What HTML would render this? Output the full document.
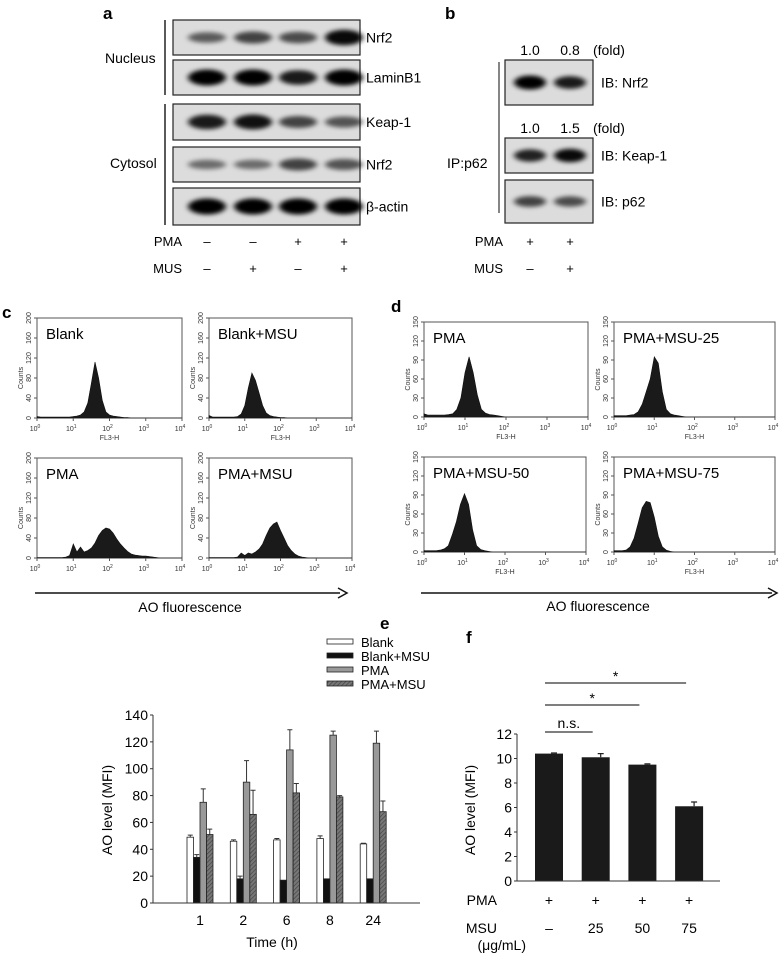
<!DOCTYPE html>
<html><head><meta charset="utf-8">
<style>
html,body{margin:0;padding:0;background:#fff;}
svg{display:block;font-family:"Liberation Sans",sans-serif;}
</style></head>
<body>
<svg id="fig" width="784" height="955" viewBox="0 0 784 955" xmlns="http://www.w3.org/2000/svg">
<defs>
<filter id="blur" x="-20%" y="-50%" width="140%" height="200%"><feGaussianBlur stdDeviation="3 2.2"/></filter>
<pattern id="hatch" width="3" height="3" patternUnits="userSpaceOnUse" patternTransform="rotate(45)">
<rect width="3" height="3" fill="#777"/><line x1="0" y1="0" x2="0" y2="3" stroke="#444" stroke-width="1.4"/></pattern>
</defs>
<g id="panelA"></g>
<g id="panelB"></g>
<g id="panelC"></g>
<g id="panelD"></g>
<g id="panelE"></g>
<g id="panelF"></g>
</svg>
<script>
// ---- Panel a: blot band intensities (0..1) ----
var blotARows = ["Nrf2","LaminB1","Keap-1","Nrf2","β-actin"];
var blotANuc = [0.45,0.6,0.55,0.95];
var blotALam = [1,1,0.85,1];
var blotAKeap = [0.85,0.9,0.6,0.5];
var blotACytN = [0.35,0.35,0.6,0.5];
var blotAAct = [1,1,1,1];
var pmaA = ["–","–","+","+"];
var musA = ["–","+","–","+"];
// ---- Panel b ----
var blotBRows = ["IB: Nrf2","IB: Keap-1","IB: p62"];
var blotBNrf = [1,0.85];
var blotBKeap = [0.8,0.95];
var blotBP62 = [0.6,0.55];
var foldNrf = ["1.0","0.8"];
var foldKeap = ["1.0","1.5"];
var pmaB = ["+","+"];
var musB = ["–","+"];
// ---- Histograms (bins log10 0..4 step 0.1) ----
var histBlank = [3,2,2,2,2,2,2,2,2,2,3,4,6,12,30,70,112,80,35,12,6,4,3,2,1,1,0,0,0,0,0,0,0,0,0,0,0,0,0,0,0];
var histBlankMSU = [5,2,2,2,2,2,2,2,3,8,25,60,90,75,50,25,10,5,3,2,1,1,0,0,0,0,0,0,0,0,0,0,0,0,0,0,0,0,0,0,0];
var histPMA = [1,1,1,1,1,1,1,1,2,5,28,12,22,12,15,20,30,45,55,60,58,50,38,28,20,13,8,6,5,4,4,3,2,1,0,0,0,0,0,0,0];
var histPMAMSU = [1,1,1,1,1,1,1,1,2,10,5,10,8,12,18,28,45,60,68,72,55,40,25,15,8,4,2,1,0,0,0,0,0,0,0,0,0,0,0,0,0];
var histD_PMA = [5,3,3,3,3,3,4,5,12,30,70,95,70,35,12,6,4,3,2,1,0,0,0,0,0,0,0,0,0,0,0,0,0,0,0,0,0,0,0,0,0];
var histD_25 = [2,2,2,2,3,4,8,20,40,60,95,85,40,12,5,3,2,1,0,0,0,0,0,0,0,0,0,0,0,0,0,0,0,0,0,0,0,0,0,0,0];
var histD_50 = [2,2,2,2,3,5,10,28,48,75,92,75,35,10,4,2,1,0,0,0,0,0,0,0,0,0,0,0,0,0,0,0,0,0,0,0,0,0,0,0,0];
var histD_75 = [2,2,2,3,8,22,45,70,80,78,55,25,8,3,1,0,0,0,0,0,0,0,0,0,0,0,0,0,0,0,0,0,0,0,0,0,0,0,0,0,0];
var cTicksY = ["0","40","80","120","160","200"];
var dTicksY = ["0","30","60","90","120","150"];
var xDecades = ["0","1","2","3","4"];
// ---- Panel e ----
var eCats = ["1","2","6","8","24"];
var eSeriesNames = ["Blank","Blank+MSU","PMA","PMA+MSU"];
var eBlank = [49,46,47,48,44];
var eBlankErr = [1.5,1,1,2,0.5];
var eBlankMSU = [34,18,17,18,18];
var eBlankMSUErr = [2,2,0,0,0];
var ePMA = [75,90,114,125,119];
var ePMAErr = [10,16,15,3,9];
var ePMAMSU = [51,66,82,79,68];
var ePMAMSUErr = [4,18,7,1,8];
var eTicks = [0,20,40,60,80,100,120,140];
// ---- Panel f ----
var fCats = ["–","25","50","75"];
var fPMA = ["+","+","+","+"];
var fVals = [10.4,10.1,9.5,6.1];
var fErr = [0.05,0.3,0.06,0.35];
var fTicks = [0,2,4,6,8,10,12];
var fSig = [{from:0,to:1,label:"n.s."},{from:0,to:2,label:"*"},{from:0,to:3,label:"*"}];

var NS="http://www.w3.org/2000/svg";
function mk(parent,tag,attrs,text){var e=document.createElementNS(NS,tag);for(var k in attrs)e.setAttribute(k,attrs[k]);if(text!==undefined)e.textContent=text;parent.appendChild(e);return e;}

// ===== Panel A =====
(function(){
var g=document.getElementById('panelA');
var t=mk(g,'text',{x:103,y:19,'font-size':17,'font-weight':'bold'},'a');


var rowsY=[[20,55],[60,95],[104,140],[147,182],[188,225]];
var data=[blotANuc,blotALam,blotAKeap,blotACytN,blotAAct];
var lanes=[207,253,298,344];
for(var r=0;r<5;r++){
 var box=mk(g,'g',{});
 
 
 var y0=rowsY[r][0],y1=rowsY[r][1];
 mk(box,'rect',{x:173,y:y0,width:187,height:y1-y0,fill:'#dcdcdc',stroke:'#222','stroke-width':1.2});
 for(var l=0;l<4;l++){
  var v=data[r][l];
  var b=mk(box,'ellipse',{cx:lanes[l],cy:(y0+y1)/2,rx:19,ry:3+v*5,fill:'#000','fill-opacity':0.25+0.75*v,filter:'url(#blur)'});
  
  
 }
 var lt=mk(g,'text',{x:366,y:(y0+y1)/2+5,'font-size':14},blotARows[r]);
 
 
}
mk(g,'line',{x1:165,y1:20,x2:165,y2:95,stroke:'#222','stroke-width':1.5});
mk(g,'line',{x1:165,y1:104,x2:165,y2:225,stroke:'#222','stroke-width':1.5});
var n=mk(g,'text',{x:105,y:63,'font-size':14},'Nucleus');
var c=mk(g,'text',{x:110,y:168,'font-size':14},'Cytosol');
var p=mk(g,'text',{x:182,y:246,'font-size':13,'text-anchor':'end'},'PMA');
var m=mk(g,'text',{x:182,y:273,'font-size':13,'text-anchor':'end'},'MUS');
for(var l=0;l<4;l++){
 var a=mk(g,'text',{x:lanes[l],y:246,'font-size':13,'text-anchor':'middle'},pmaA[l]);
 var b2=mk(g,'text',{x:lanes[l],y:273,'font-size':13,'text-anchor':'middle'},musA[l]);
}
})();

// ===== Panel B =====
(function(){
var g=document.getElementById('panelB');
var t=mk(g,'text',{x:445,y:19,'font-size':17,'font-weight':'bold'},'b');


var rowsY=[[60,105],[138,173],[180,223]];
var data=[blotBNrf,blotBKeap,blotBP62];
var lanes=[530,570];
for(var r=0;r<3;r++){
 var box=mk(g,'g',{});
 
 
 var y0=rowsY[r][0],y1=rowsY[r][1];
 mk(box,'rect',{x:505,y:y0,width:88,height:y1-y0,fill:'#dcdcdc',stroke:'#222','stroke-width':1.2});
 for(var l=0;l<2;l++){
  var v=data[r][l];
  var b=mk(box,'ellipse',{cx:lanes[l],cy:(y0+y1)/2,rx:16,ry:3+v*4,fill:'#000','fill-opacity':0.25+0.75*v,filter:'url(#blur)'});
  
  
 }
 var lt=mk(g,'text',{x:601,y:(y0+y1)/2+5,'font-size':14},blotBRows[r]);
 
 
}
for(var l=0;l<2;l++){
 var f1=mk(g,'text',{x:lanes[l],y:55,'font-size':14,'text-anchor':'middle'},foldNrf[l]);
 var f2=mk(g,'text',{x:lanes[l],y:133,'font-size':14,'text-anchor':'middle'},foldKeap[l]);
 var p=mk(g,'text',{x:lanes[l],y:246,'font-size':13,'text-anchor':'middle'},pmaB[l]);
 var m=mk(g,'text',{x:lanes[l],y:273,'font-size':13,'text-anchor':'middle'},musB[l]);
}
var fl=mk(g,'text',{x:593,y:55,'font-size':14},'(fold)');
var fl2=mk(g,'text',{x:593,y:133,'font-size':14},'(fold)');
mk(g,'line',{x1:499,y1:62,x2:499,y2:213,stroke:'#444','stroke-width':1.3});
var ip=mk(g,'text',{x:447,y:168,'font-size':14},'IP:p62');
var p=mk(g,'text',{x:503,y:246,'font-size':13,'text-anchor':'end'},'PMA');
var m=mk(g,'text',{x:503,y:273,'font-size':13,'text-anchor':'end'},'MUS');
})();

// ===== Histograms =====
function histo(g,x0,y0,x1,y1,data,ymax,ticks,title,showX){
 var hg=mk(g,'g',{});
 
 
 mk(hg,'rect',{x:x0,y:y0,width:x1-x0,height:y1-y0,fill:'#fff',stroke:'#555','stroke-width':1});
 var xs=function(lg){return x0+(x1-x0)*lg/4;};
 var ys=function(v){return y1-(y1-y0)*v/ymax;};
 var d='M'+xs(0)+','+y1;
 for(var i=0;i<data.length;i++){d+=' L'+xs(i*0.1).toFixed(1)+','+ys(data[i]).toFixed(1);}
 d+=' L'+xs(4)+','+y1+' Z';
 var hp=mk(hg,'path',{d:d,fill:'#1a1a1a',stroke:'#111','stroke-width':0.6});
 
 
 var tt=mk(hg,'text',{x:x0+9,y:y0+21,'font-size':15},title);
 
 
 for(var k=0;k<ticks.length;k++){
  var ty=y1-(y1-y0)*k/(ticks.length-1);
  mk(hg,'line',{x1:x0-3,y1:ty,x2:x0,y2:ty,stroke:'#555'});
  var tl=mk(hg,'text',{x:x0-6,y:ty,'font-size':7,'text-anchor':'middle',fill:'#333',transform:'rotate(-90 '+(x0-6)+' '+ty+')'},ticks[k]);
  
  
 }
 var cl=mk(hg,'text',{x:x0-14,y:(y0+y1)/2+10,'font-size':7,'text-anchor':'middle',fill:'#333',transform:'rotate(-90 '+(x0-14)+' '+((y0+y1)/2+10)+')'},'Counts');
 
 
 for(var k=0;k<xDecades.length;k++){
  var tx=xs(+xDecades[k]);
  mk(hg,'line',{x1:tx,y1:y1,x2:tx,y2:y1+3,stroke:'#555'});
  var xl=mk(hg,'text',{x:tx-2,y:y1+13,'font-size':7,'text-anchor':'middle',fill:'#333'},'10');
  
  
  mk(xl,'tspan',{dy:-3,'font-size':5},xDecades[k]);
 }
 if(showX){
  var xt=mk(hg,'text',{x:(x0+x1)/2,y:y1+22,'font-size':7,'text-anchor':'middle',fill:'#333'},'FL3-H');
  
  
 }
}
(function(){
var g=document.getElementById('panelC');
var t=mk(g,'text',{x:2,y:318,'font-size':17,'font-weight':'bold'},'c');

histo(g,37,318,182,418,histBlank,200,cTicksY,'Blank',true);
histo(g,209,318,352,418,histBlankMSU,200,cTicksY,'Blank+MSU',true);
histo(g,37,458,182,558,histPMA,200,cTicksY,'PMA',false);
histo(g,209,458,352,558,histPMAMSU,200,cTicksY,'PMA+MSU',false);
mk(g,'line',{x1:35,y1:593,x2:340,y2:593,stroke:'#111','stroke-width':1.5});
mk(g,'path',{d:'M338,588 L347,593 L338,598',fill:'none',stroke:'#111','stroke-width':1.5});
var a=mk(g,'text',{x:190,y:612,'font-size':14,'text-anchor':'middle'},'AO fluorescence');

})();
(function(){
var g=document.getElementById('panelD');
var t=mk(g,'text',{x:391,y:312,'font-size':17,'font-weight':'bold'},'d');

histo(g,424,322,588,417,histD_PMA,150,dTicksY,'PMA',true);
histo(g,614,322,775,417,histD_25,150,dTicksY,'PMA+MSU-25',true);
histo(g,424,457,586,552,histD_50,150,dTicksY,'PMA+MSU-50',true);
histo(g,614,457,775,552,histD_75,150,dTicksY,'PMA+MSU-75',true);
mk(g,'line',{x1:421,y1:593,x2:772,y2:593,stroke:'#111','stroke-width':1.5});
mk(g,'path',{d:'M768,588 L777,593 L768,598',fill:'none',stroke:'#111','stroke-width':1.5});
var a=mk(g,'text',{x:598,y:611,'font-size':14,'text-anchor':'middle'},'AO fluorescence');

})();

// ===== Panel E =====
(function(){
var g=document.getElementById('panelE');
var t=mk(g,'text',{x:380,y:629,'font-size':17,'font-weight':'bold'},'e');

var ax0=153,ax1=420,yb=903,yt=715,vmax=140;
function ys(v){return yb-(yb-yt)*v/vmax;}
var cx0=200,cstep=43.3;
function xs(i){return cx0+i*cstep;}
var series=[eBlank,eBlankMSU,ePMA,ePMAMSU];
var errs=[eBlankErr,eBlankMSUErr,ePMAErr,ePMAMSUErr];
var fills=['#fff','#111','#999','url(#hatch)'];
var bw=6.5;
for(var s=0;s<4;s++){
 for(var i=0;i<eCats.length;i++){
  var bx=xs(i)-13+s*bw, v=series[s][i];
  var r=mk(g,'rect',{x:bx,y:ys(v),width:bw,height:yb-ys(v),fill:fills[s],stroke:'#222','stroke-width':0.8});
  
  
  var e=errs[s][i];
  if(e>0){
   var ex=bx+bw/2;
   var el=mk(g,'path',{d:'M'+ex+','+ys(v)+' L'+ex+','+ys(v+e)+' M'+(ex-2.5)+','+ys(v+e)+' L'+(ex+2.5)+','+ys(v+e),stroke:'#333','stroke-width':1,fill:'none'});
   
   
  }
 }
}
mk(g,'line',{x1:ax0,y1:yt,x2:ax0,y2:yb,stroke:'#333','stroke-width':1});
mk(g,'line',{x1:ax0,y1:yb,x2:ax1,y2:yb,stroke:'#333','stroke-width':1});
for(var k=0;k<eTicks.length;k++){
 mk(g,'line',{x1:ax0-3,y1:ys(eTicks[k]),x2:ax0,y2:ys(eTicks[k]),stroke:'#333'});
 var tl=mk(g,'text',{x:ax0-5,y:ys(eTicks[k])+5,'font-size':14,'text-anchor':'end'},String(eTicks[k]));
 
}
for(var i=0;i<eCats.length;i++){
 var xl=mk(g,'text',{x:xs(i),y:925,'font-size':14,'text-anchor':'middle'},eCats[i]);
 
}
var xt=mk(g,'text',{x:272,y:947,'font-size':14,'text-anchor':'middle'},'Time (h)');

var yl=mk(g,'text',{x:112,y:810,'font-size':14,'text-anchor':'middle',transform:'rotate(-90 112 810)'},'AO level (MFI)');

var lg=mk(g,'g',{});

for(var s=0;s<4;s++){
 var ly=642+s*14;
 var sw=mk(lg,'rect',{x:327,y:ly-3,width:26,height:5,fill:fills[s],stroke:'#222','stroke-width':0.8});
 
 var lt=mk(lg,'text',{x:361,y:ly+5,'font-size':13},eSeriesNames[s]);
 
}
})();

// ===== Panel F =====
(function(){
var g=document.getElementById('panelF');
var t=mk(g,'text',{x:466,y:643,'font-size':17,'font-weight':'bold'},'f');

var ax0=517,ax1=720,yb=881,yt=734,vmax=12;
function ys(v){return yb-(yb-yt)*v/vmax;}
function xs(i){return 549+i*46.7;}
for(var i=0;i<fVals.length;i++){
 var r=mk(g,'rect',{x:xs(i)-14,y:ys(fVals[i]),width:28,height:yb-ys(fVals[i]),fill:'#1a1a1a'});
 
 
 var e=fErr[i],ex=xs(i)+5;
 var el=mk(g,'path',{d:'M'+ex+','+ys(fVals[i])+' L'+ex+','+ys(fVals[i]+e)+' M'+(ex-3)+','+ys(fVals[i]+e)+' L'+(ex+3)+','+ys(fVals[i]+e),stroke:'#222','stroke-width':1.2,fill:'none'});
 
 var p=mk(g,'text',{x:xs(i),y:905,'font-size':14,'text-anchor':'middle'},fPMA[i]);
 
 var m=mk(g,'text',{x:xs(i),y:933,'font-size':14,'text-anchor':'middle'},fCats[i]);
 
}
mk(g,'line',{x1:ax0,y1:yt,x2:ax0,y2:yb,stroke:'#333','stroke-width':1});
mk(g,'line',{x1:ax0,y1:yb,x2:ax1,y2:yb,stroke:'#333','stroke-width':1});
for(var k=0;k<fTicks.length;k++){
 mk(g,'line',{x1:ax0-3,y1:ys(fTicks[k]),x2:ax0,y2:ys(fTicks[k]),stroke:'#333'});
 var tl=mk(g,'text',{x:ax0-5,y:ys(fTicks[k])+5,'font-size':14,'text-anchor':'end'},String(fTicks[k]));
 
}
var yl=mk(g,'text',{x:475,y:810,'font-size':14,'text-anchor':'middle',transform:'rotate(-90 475 810)'},'AO level (MFI)');

var sigY=[732,705,683];
for(var s=0;s<fSig.length;s++){
 var x1=xs(fSig[s].from)-4,x2=xs(fSig[s].to)-3;
 mk(g,'line',{x1:x1,y1:sigY[s],x2:x2,y2:sigY[s],stroke:'#333','stroke-width':1.2});
 var st=mk(g,'text',{x:(x1+x2)/2,y:sigY[s]-(s===0?4:2),'font-size':14,'text-anchor':'middle'},fSig[s].label);
 
}
var p=mk(g,'text',{x:497,y:905,'font-size':14,'text-anchor':'end'},'PMA');

var m=mk(g,'text',{x:497,y:933,'font-size':14,'text-anchor':'end'},'MSU');

var u=mk(g,'text',{x:526,y:950,'font-size':14,'text-anchor':'end'},'(μg/mL)');

})();
</script>
</body></html>
